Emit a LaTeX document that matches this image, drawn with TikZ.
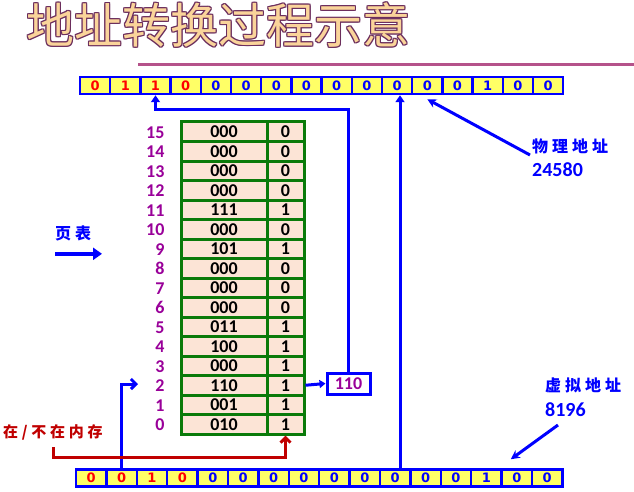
\documentclass[tikz,border=0pt]{standalone}
\usepackage{fontspec}
\setmainfont{Carlito}
\newfontfamily\cjk{Noto Sans CJK SC}
\newfontfamily\kai[LetterSpace=25]{Noto Sans CJK SC}
\newfontfamily\bitfont{DejaVu Sans}
\usetikzlibrary{arrows.meta}
\definecolor{barblue}{HTML}{0000FF}
\definecolor{barfill}{HTML}{FFFF66}
\definecolor{bitred}{HTML}{FF0000}
\definecolor{tabgreen}{HTML}{0A7A0A}
\definecolor{tabfill}{HTML}{FCE4D6}
\definecolor{rowpurple}{HTML}{990099}
\definecolor{memred}{HTML}{C00000}
\definecolor{titlefill}{HTML}{FAD49A}
\definecolor{titleline}{HTML}{6B2D5C}
\definecolor{rulepink}{HTML}{B5528A}
\tikzset{
  bitcell/.style={draw=barblue, fill=barfill, line width=2.5pt, minimum height=17pt, inner sep=0pt, font=\bitfont\bfseries\fontsize{13}{13}\selectfont},
  pfncell/.style={draw=tabgreen, fill=tabfill, line width=3pt, minimum width=86pt, minimum height=19.5pt, inner sep=0pt, font=\bfseries\fontsize{18}{18}\selectfont},
  okcell/.style={pfncell, minimum width=37pt},
  rowno/.style={anchor=east, text=rowpurple, font=\bfseries\fontsize{18}{18}\selectfont},
  link/.style={draw=barblue, line width=3pt},
  note/.style={anchor=west, inner sep=0pt, text=barblue, font=\kai\bfseries\fontsize{16}{16}\selectfont},
  num/.style={anchor=west, inner sep=0pt, text=barblue, font=\bfseries\fontsize{20}{20}\selectfont},
  title/.style={anchor=base west, inner sep=0pt, font=\cjk\fontsize{48}{48}\selectfont},
  barb/.style={-{Straight Barb[length=5pt,width=10pt]}},
  tri/.style={-{Triangle[length=7pt,width=9pt]}},
}
\begin{document}
\begin{tikzpicture}[x=1pt, y=-1pt]
  \useasboundingbox (0,0) rectangle (634,492);

  % title
  \foreach \dx/\dy in {-1/0,1/0,0/-1,0/1,-1/-1,1/1,-1/1,1/-1}
    \node[title, text=titleline] at (26+\dx,44+\dy) {地址转换过程示意};
  \node[title, text=titlefill] (title) at (26,44) {地址转换过程示意};
  \draw[rulepink, line width=3pt] (138,64.5) -- (634,64.5);

  % physical address (top) and virtual address (bottom)
  \foreach \b [count=\i from 0] in {0,1,1,0,0,0,0,0,0,0,0,0,0,1,0,0} {
    \ifnum\i<4 \def\bc{bitred}\else\def\bc{barblue}\fi
    \node[bitcell, minimum width=30.2pt, text=\bc] (pa\i) at (95.1+30.2*\i,85.5) {\b};
  }
  \foreach \b [count=\i from 0] in {0,0,1,0,0,0,0,0,0,0,0,0,0,1,0,0} {
    \ifnum\i<4 \def\bc{bitred}\else\def\bc{barblue}\fi
    \node[bitcell, minimum width=30.4pt, text=\bc] (va\i) at (91.2+30.4*\i,478) {\b};
  }

  % page table
  \foreach \f/\v [count=\i from 0] in {010/1,001/1,110/1,000/1,100/1,011/1,000/0,000/0,000/0,101/1,000/0,111/1,000/0,000/0,000/0,000/0} {
    \node[pfncell] (fn\i) at (224,424.25-19.5*\i) {\f};
    \node[okcell] (ok\i) at (285.5,424.25-19.5*\i) {\v};
    \node[rowno] (no\i) at (168,424.75-19.5*\i) {\i};
  }
  \node[draw=barblue, line width=3pt, minimum width=43pt, minimum height=21pt, inner sep=0pt,
        text=rowpurple, font=\bfseries\fontsize{18}{18}\selectfont] (pfn) at (348.5,383.5) {110};

  % labels
  \node[note] (ptab) at (55,233) {页表};
  \node[note] (phys) at (532,146) {物理地址};
  \node[num] (pnum) at (532,170) {24580};
  \node[note] (virt) at (545,385) {虚拟地址};
  \node[num] (vnum) at (545,410) {8196};
  \node[note, text=memred, font=\kai\bfseries\fontsize{15}{15}\selectfont] (mem) at (3,432) {在/不在内存};
  \coordinate (memtail) at (53,447);
  \coordinate (vtail) at (558,425);
  \coordinate (ptail) at (530,155);
  \coordinate (off) at (400,0);

  % connectors
  \draw[barblue, line width=4pt, -{Triangle[length=9pt,width=12pt]}] (ptab.south west) ++(0,13) -- ++(47,0);
  \draw[link, barb] (va1.north) |- (138,384);
  \draw[memred, line width=3pt, barb] (memtail) -- ++(0,10) -| (ok0.south);
  \draw[link, -{Triangle[length=6pt,width=8pt]}] (ok2.east) -- (pfn.west);
  \draw[link, tri] (pfn.north) |- ([yshift=-14pt]pa2.south) -- (pa2.south);
  \draw[link, tri] (va10.north -| off) -- (pa10.south -| off);
  \draw[link, -{Stealth[length=9pt,width=9pt]}] (ptail) -- ([yshift=-4pt]pa11.south);
  \draw[link, -{Stealth[length=9pt,width=9pt]}] (vtail) -- ([xshift=-6pt,yshift=9pt]va14.north);
\end{tikzpicture}
\end{document}
